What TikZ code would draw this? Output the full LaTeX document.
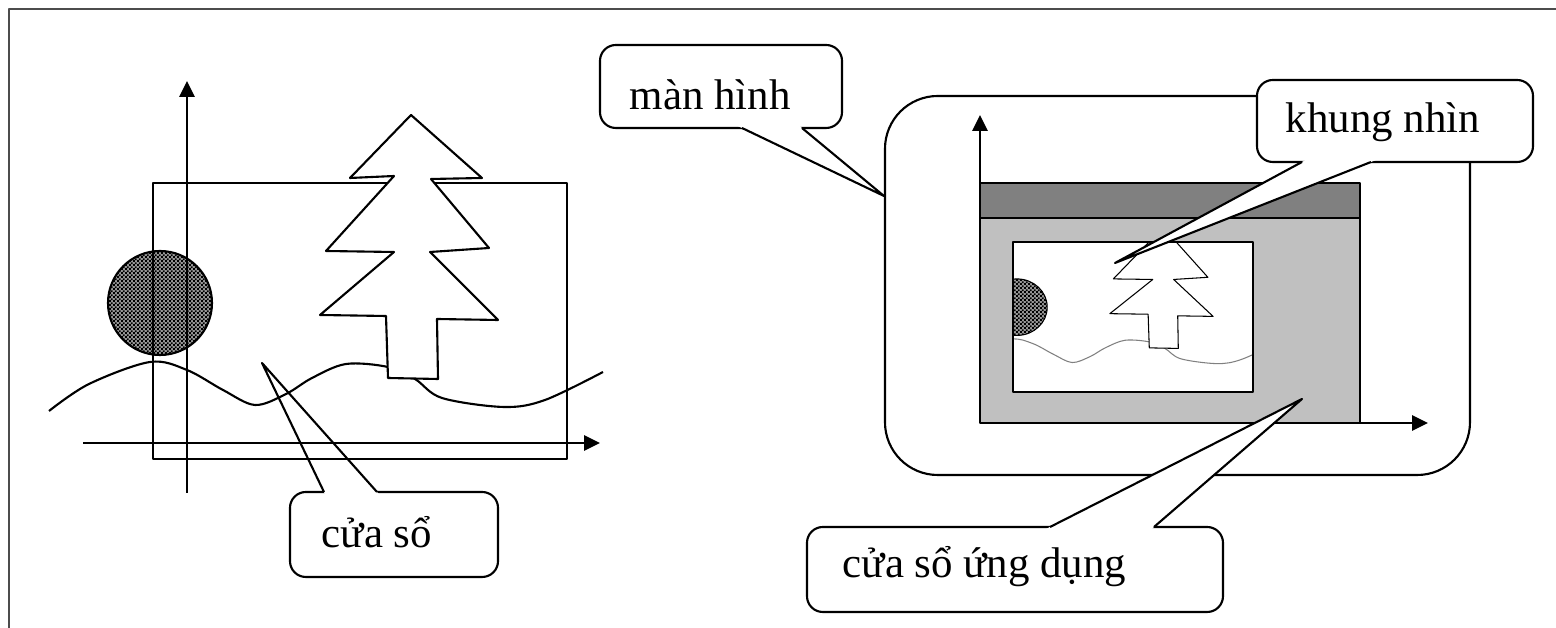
\documentclass[tikz,border=0pt]{standalone}
\usepackage{fontspec}
\setmainfont{Liberation Serif}
\usetikzlibrary{arrows.meta,calc,patterns}

% chấm ô cờ nhỏ cho mặt trời
\pgfdeclarepatternformonly{finecheck}{\pgfpointorigin}{\pgfpoint{1.2pt}{1.2pt}}{\pgfpoint{1.2pt}{1.2pt}}{%
  \pgfpathrectangle{\pgfpointorigin}{\pgfpoint{0.6pt}{0.6pt}}%
  \pgfpathrectangle{\pgfpoint{0.6pt}{0.6pt}}{\pgfpoint{0.6pt}{0.6pt}}%
  \pgfusepath{fill}}

\definecolor{barGray}{HTML}{808080}
\definecolor{bodyGray}{HTML}{C0C0C0}

% mặt trời, đồi, cây thông
\def\sunpath{(160,303) circle[radius=52]}
\def\hillpath{plot[smooth,tension=0.55] coordinates {(49,411) (89,384) (150,362) (187,370) (223,390) (255,405) (286,394) (312,378) (346,364) (388,367) (415,379) (442,398) (504,407) (545,400) (603,372)}}
\def\treepath{(411,115)--(482,178)--(431,179)--(489,248)--(430,252)--(498,320)--(437,319)--(438,379)--(388,378)--(386,316)--(320,315)--(394,252)--(326,251)--(394,176)--(350,178)--cycle}

% mũi chỉ của chú thích: chân 1, chân 2, đỉnh
\newcommand{\calloutpointer}[3]{%
  \fill[white] (#3) -- ($(#3)!1.08!(#1)$) -- ($(#3)!1.08!(#2)$) -- cycle;
  \draw[pen] (#1) -- (#3) -- (#2);}

\begin{document}
\begin{tikzpicture}[x=0.01cm, y=-0.01cm, >={Triangle[length=4.5pt,width=4.3pt]},
	line join=round, font=\fontsize{12.2}{14}\selectfont,
	pen/.style={line width=0.6pt}, thinpen/.style={line width=0.3pt},
	callout/.style={pen, fill=white, rounded corners=4.5pt},
	lbl/.style={anchor=base west, inner sep=0pt}]
	\useasboundingbox (0,0) rectangle (1556,628);
	\draw[line width=0.6pt, black!70] (9,628) -- (9,9) -- (1556,9);

	% chú thích cửa sổ (nằm dưới hình vẽ)
	\coordinate (wintip) at (262,363);
	\draw[callout] (290,492) rectangle (498,577);
	\calloutpointer{324,492}{377,492}{wintip}
	\node[lbl] (winlbl) at (321,548) {cửa sổ};

	% cửa sổ
	\fill[black!40] \sunpath;
	\fill[pattern=finecheck] \sunpath;
	\draw[pen] \sunpath;
	\draw[pen,->] (187,493) -- (187,81);
	\draw[pen,->] (83,443) -- (600,443);
	\draw[pen] (153,183) rectangle (567,459);
	\draw[pen] \hillpath;
	\draw[pen,fill=white] \treepath;

	% màn hình và cửa sổ ứng dụng
	\draw[pen, rounded corners=15pt] (885,96) rectangle (1470,475);
	\draw[pen, fill=barGray] (980,183) rectangle (1360,218);
	\draw[pen, fill=bodyGray] (980,218) rectangle (1360,423);

	% khung nhìn
	\fill[white] (1013,242) rectangle (1253,392);
	\begin{scope}
		\clip (1013,242) rectangle (1253,392);
		\begin{scope}[shift={(1013,242)}, xscale=0.58, yscale=0.543, shift={(-153,-183)}]
			\fill[black!40] \sunpath;
			\fill[pattern=finecheck] \sunpath;
			\draw[thinpen] \sunpath;
			\draw[thinpen, gray] \hillpath;
			\draw[thinpen, fill=white] \treepath;
		\end{scope}
	\end{scope}
	\draw[pen] (1013,242) rectangle (1253,392);
	\draw[pen,->] (980,423) -- (980,115);
	\draw[pen,->] (980,423) -- (1428,423);

	% chú thích
	\coordinate (screentip) at (884,196);
	\coordinate (viewtip) at (1115,263);
	\coordinate (apptip) at (1302,399);

	\draw[callout] (600,45) rectangle (842,128);
	\calloutpointer{742,128}{802,128}{screentip}
	\node[lbl] (screenlbl) at (629,110) {màn hình};

	\draw[callout] (1257,80) rectangle (1533,162);
	\calloutpointer{1302,162}{1371,162}{viewtip}
	\node[lbl] (viewlbl) at (1285,133) {khung nhìn};

	\draw[callout] (807,527) rectangle (1223,612);
	\calloutpointer{1050,527}{1154,527}{apptip}
	\node[lbl] (applbl) at (842,578) {cửa sổ ứng dụng};
\end{tikzpicture}
\end{document}
